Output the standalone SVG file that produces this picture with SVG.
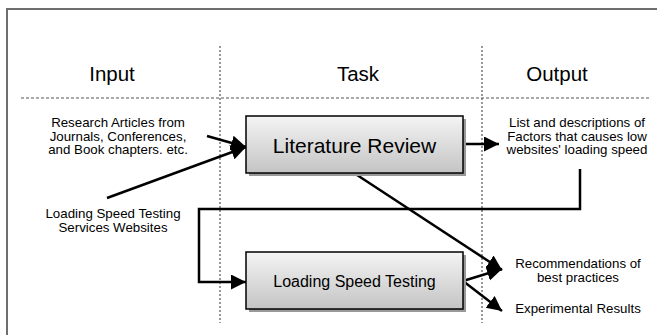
<svg xmlns="http://www.w3.org/2000/svg" width="657" height="335" viewBox="0 0 657 335">
<style>
text{font-family:"Liberation Sans",Arial,sans-serif;fill:#000;text-anchor:middle}
.hd{font-size:20.5px}
.sm{font-size:13.3px}
.conn{stroke:#000;stroke-width:2.5;fill:none}
.box{stroke:#000;stroke-width:1.5;fill:url(#g)}
.sh{fill:#999}
.grid{stroke:#555;stroke-width:1;stroke-dasharray:3,2;fill:none}
.vgrid{stroke:#777;stroke-width:1.5;stroke-dasharray:2,2;fill:none}
</style>
<defs>
<linearGradient id="g" x1="0" y1="0" x2="0" y2="1">
<stop offset="0" stop-color="#f4f4f4"/>
<stop offset="1" stop-color="#c4c4c4"/>
</linearGradient>
<marker id="ah" markerUnits="userSpaceOnUse" markerWidth="16" markerHeight="16" refX="15" refY="7.5" orient="auto" viewBox="0 0 16 16">
<path d="M0,0 L15,7.5 L0,15 z" fill="#000"/>
</marker>
</defs>
<rect x="0" y="0" width="657" height="335" fill="#fff"/>
<rect x="7" y="9" width="670" height="340" fill="none" stroke="#6e6e6e" stroke-width="2"/>
<g id="lanes">
<line class="vgrid" x1="220" y1="46" x2="220" y2="323"/>
<line class="vgrid" x1="482" y1="46" x2="482" y2="323"/>
<line class="grid" x1="21" y1="98" x2="649" y2="98"/>
<text class="hd" x="112" y="81">Input</text>
<text class="hd" x="358" y="81">Task</text>
<text class="hd" x="557" y="81">Output</text>
</g>
<g id="connectors">
<line class="conn" x1="207" y1="136" x2="246" y2="147" marker-end="url(#ah)"/>
<line class="conn" x1="107" y1="198" x2="246" y2="147" marker-end="url(#ah)"/>
<line class="conn" x1="463" y1="144" x2="499" y2="144" marker-end="url(#ah)"/>
<polyline class="conn" points="580,169 580,209 199,209 199,282 246,282" marker-end="url(#ah)"/>
<line class="conn" x1="354" y1="173" x2="502" y2="270" marker-end="url(#ah)"/>
<line class="conn" x1="463" y1="281" x2="502" y2="269" marker-end="url(#ah)"/>
<line class="conn" x1="463" y1="281" x2="502" y2="311" marker-end="url(#ah)"/>
</g>
<g id="literature-review">
<rect class="sh" x="249" y="119" width="217" height="57"/>
<rect class="box" x="246" y="116" width="217" height="57"/>
<text x="354.5" y="153" style="font-size:21px">Literature Review</text>
</g>
<g id="loading-speed-testing">
<rect class="sh" x="249" y="255" width="217" height="57"/>
<rect class="box" x="246" y="252" width="217" height="57"/>
<text x="354.5" y="287" style="font-size:16px">Loading Speed Testing</text>
</g>
<g id="input-articles">
<text class="sm" x="118" y="127">Research Articles from</text>
<text class="sm" x="118" y="140.5">Journals, Conferences,</text>
<text class="sm" x="118" y="154">and Book chapters. etc.</text>
</g>
<g id="input-services">
<text class="sm" x="113" y="218">Loading Speed Testing</text>
<text class="sm" x="113" y="231.5">Services Websites</text>
</g>
<g id="output-factors">
<text class="sm" x="577" y="127">List and descriptions of</text>
<text class="sm" x="577" y="140.5">Factors that causes low</text>
<text class="sm" x="577" y="154">websites' loading speed</text>
</g>
<g id="output-recommendations">
<text class="sm" x="578" y="268">Recommendations of</text>
<text class="sm" x="578" y="282">best practices</text>
</g>
<g id="output-results">
<text class="sm" x="578" y="313">Experimental Results</text>
</g>
</svg>
